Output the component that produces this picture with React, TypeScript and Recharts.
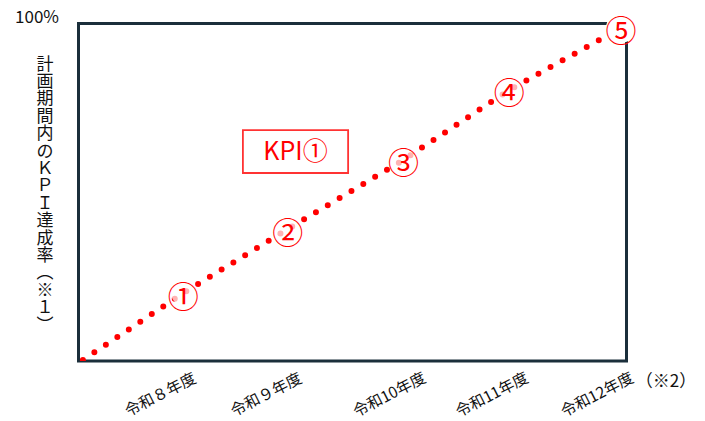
import React from "react";
import { LineChart, Line, XAxis, YAxis, ReferenceArea, LabelList } from "recharts";

// elapsed share of the plan period (%) and KPI achievement (%)
const elapsed = [0.8, 19.1, 38.2, 59.3, 78.6, 99.0];
const achieved = [0.3, 20.1, 39.1, 59.6, 80.3, 98.7];
const markers = ["", "①", "②", "③", "④", "⑤"];

const yearLabels = ["令和８年度", "令和９年度", "令和10年度", "令和11年度", "令和12年度"];
const yearTickPos = [14.8, 34.1, 56.6, 75.3, 94.5];
const yearNote = "（※2）";

const yTicks = [100];
const yTickLabels = ["100%"];
const yTitle = "計画期間内のＫＰＩ達成率（※１）";

const kpiLabel = "KPI①";
const kpiX = [30, 49.2];
const kpiY = [55.7, 68.4];

const data = elapsed.map((x, i) => ({ x, y: achieved[i], m: markers[i] }));

const FONT = "'Noto Sans CJK JP', 'Noto Sans', sans-serif";
const RED = "#ff0000";
const FRAME = "#1b2f3b";

const XTick = (props: any) => {
  const { x, y, index } = props;
  const cy = y + 32;
  const last = index === yearLabels.length - 1;
  return (
    <g>
      <text
        x={x}
        y={cy}
        transform={`rotate(-27, ${x}, ${cy})`}
        textAnchor="middle"
        dominantBaseline="central"
        fontSize={15.5}
        fontFamily={FONT}
        fill="#111"
      >
        {yearLabels[index]}
      </text>
      {last && (
        <text
          x={x + 39.5}
          y={cy - 14}
          textAnchor="start"
          dominantBaseline="central"
          fontSize={17}
          fontFamily={FONT}
          fill="#111"
        >
          {yearNote}
        </text>
      )}
    </g>
  );
};

const YTick = (props: any) => {
  const { x, y, index } = props;
  return (
    <text
      x={x - 41.5}
      y={y - 8.5}
      textAnchor="middle"
      dominantBaseline="central"
      fontSize={17}
      fontFamily={FONT}
      fill="#111"
    >
      {yTickLabels[index] ?? ""}
    </text>
  );
};

const verticalForm = (c: string) => (c === "（" ? "︵" : c === "）" ? "︶" : c);

const YTitle = (props: any) => {
  const vb = props.viewBox || { x: 0, y: 0 };
  const cx = vb.x + 26.5;
  const y0 = vb.y + 38.5;
  const chars = Array.from(yTitle);
  return (
    <g>
      {chars.map((c, i) => (
        <text
          key={i}
          x={cx}
          y={y0 + i * 17.4}
          textAnchor="middle"
          dominantBaseline="central"
          fontSize={17}
          fontFamily={FONT}
          fill="#111"
        >
          {verticalForm(c)}
        </text>
      ))}
    </g>
  );
};

const Marker = (props: any) => {
  const { x, y, value } = props;
  if (!value) return null;
  const isLast = value === markers[markers.length - 1];
  return (
    <g>
      <circle cx={x} cy={y} r={isLast ? 15 : 12} fill="#fff" fillOpacity={isLast ? 1 : 0.7} />
      <text
        x={x}
        y={y + 1}
        textAnchor="middle"
        dominantBaseline="central"
        fontSize={31}
        fontFamily={FONT}
        fill={RED}
      >
        {value}
      </text>
    </g>
  );
};

export default function App() {
  return (
    <div style={{ margin: "-8px 0 0 -8px", width: 705, height: 421 }}>
      <LineChart
        width={705}
        height={421}
        data={data}
        margin={{ top: 23.5, right: 78.5, bottom: 10, left: 18.5 }}
      >
        <XAxis
          type="number"
          dataKey="x"
          domain={[0, 100]}
          ticks={yearTickPos}
          interval={0}
          height={50}
          axisLine={false}
          tickLine={false}
          tickSize={0}
          tickMargin={0}
          tick={<XTick />}
          allowDataOverflow
        />
        <YAxis
          type="number"
          domain={[0, 100]}
          ticks={yTicks}
          width={60}
          axisLine={false}
          tickLine={false}
          tickSize={0}
          tickMargin={0}
          tick={<YTick />}
          label={{ content: (p: any) => <YTitle {...p} /> }}
          allowDataOverflow
        />
        <ReferenceArea
          x1={0}
          x2={100}
          y1={0}
          y2={100}
          fill="none"
          stroke={FRAME}
          strokeWidth={3}
          ifOverflow="visible"
        />
        <ReferenceArea
          x1={kpiX[0]}
          x2={kpiX[1]}
          y1={kpiY[0]}
          y2={kpiY[1]}
          fill="#fff"
          fillOpacity={1}
          stroke="#ff3333"
          strokeWidth={1.8}
          label={{
            value: kpiLabel,
            position: "center",
            fill: RED,
            fontSize: 25,
            fontFamily: FONT,
          }}
        />
        <Line
          type="linear"
          dataKey="y"
          stroke={RED}
          strokeWidth={6}
          strokeDasharray="0 13.8"
          strokeLinecap="round"
          dot={false}
          activeDot={false}
          isAnimationActive={false}
        >
          <LabelList dataKey="m" content={<Marker />} />
        </Line>
      </LineChart>
    </div>
  );
}
